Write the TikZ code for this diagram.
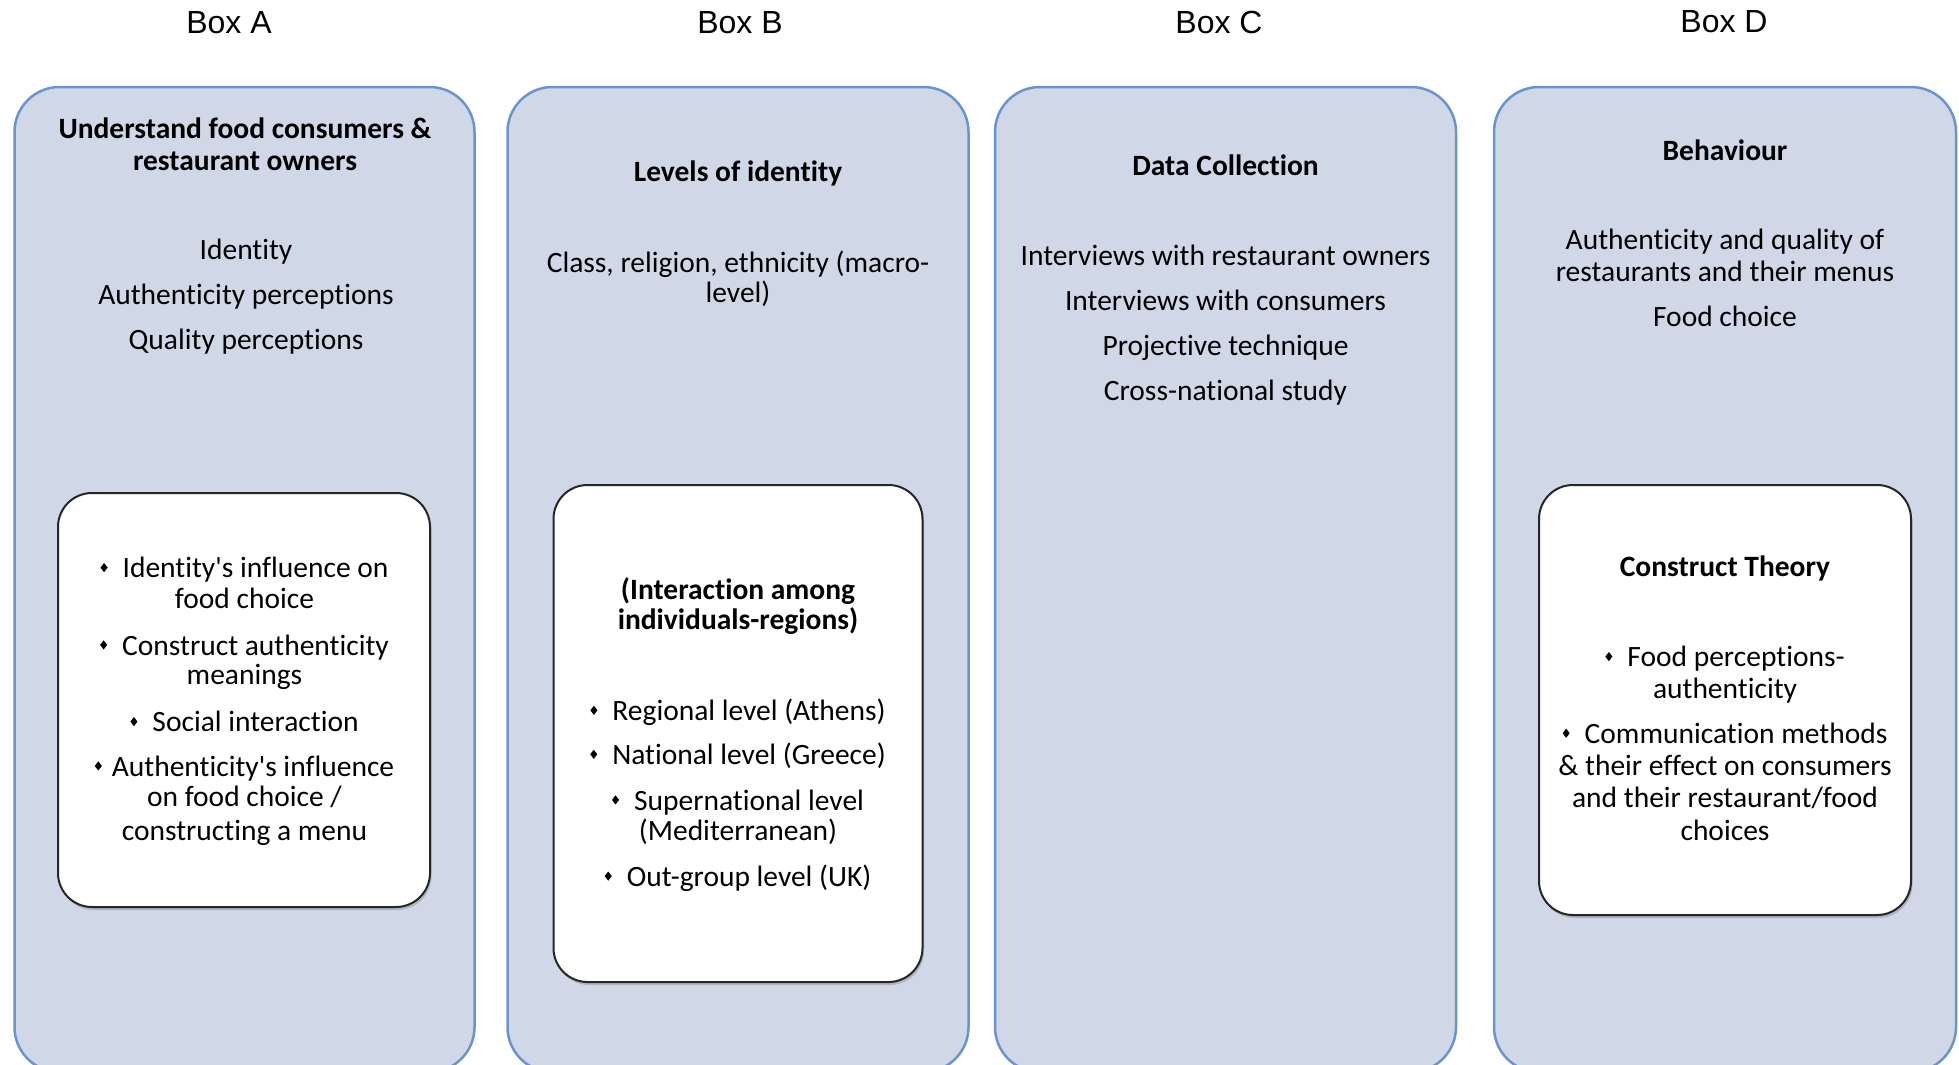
\documentclass[tikz,border=0pt]{standalone}
\usepackage{fontspec}
\usepackage{graphicx}
\setmainfont{Carlito}[Ligatures={TeXOff,NoCommon}]
\newfontfamily\arialf{Liberation Sans}
\usetikzlibrary{shadows}

\definecolor{boxfill}{RGB}{208,216,232}
\definecolor{boxline}{RGB}{106,148,204}

% small black diamond used as list bullet
\newcommand\dmd[1][15pt]{\raisebox{5.5pt}{\scalebox{1}[1.3]{\rotatebox{45}{\rule{5pt}{5pt}}}}\hspace{#1}}

\tikzset{
  outerbox/.style={draw=boxline, fill=boxfill, line width=2.5pt, rounded corners=45pt,
    anchor=north west, inner sep=0pt, outer sep=0pt, minimum height=985pt},
  innerbox/.style={draw=black!85, fill=white, line width=2pt, rounded corners=34pt,
    anchor=north west, inner sep=0pt, outer sep=0pt,
    drop shadow={shadow xshift=1.5pt, shadow yshift=-3pt, opacity=0.4}},
  txt/.style={anchor=base, inner sep=0pt, font=\fontsize{29.5}{32}\selectfont},
  hd/.style={anchor=base, inner sep=0pt, font=\fontsize{29.5}{32}\selectfont\bfseries},
  lbl/.style={anchor=base, inner sep=0pt, font=\arialf\fontsize{32}{37}\selectfont},
}

\begin{document}
\begin{tikzpicture}[x=1pt, y=-1pt]
\useasboundingbox (0,0) rectangle (1959,1065);
\fill[white] (0,0) rectangle (1959,1065);
\clip (0,0) rectangle (1959,1065);

% column headings
\node[lbl] (labA) at (229,34) {Box A};
\node[lbl] (labB) at (740,34) {Box B};
\node[lbl] (labC) at (1219,34) {Box C};
\node[lbl] (labD) at (1724,32.3) {Box D};

% column panels
\node[outerbox, minimum width=460pt] (boxA) at (14.5,87) {};
\node[outerbox, minimum width=461pt] (boxB) at (507.5,87) {};
\node[outerbox, minimum width=461pt] (boxC) at (995,87) {};
\node[outerbox, minimum width=462pt] (boxD) at (1494,87) {};

% inner white panels
\node[innerbox, minimum width=372pt, minimum height=414pt] (inA) at (58,493) {};
\node[innerbox, minimum width=369pt, minimum height=497pt] (inB) at (553.5,485) {};
\node[innerbox, minimum width=372pt, minimum height=430pt] (inD) at (1539,485) {};

% Box A
\node[hd] (a1) at (245,138.3) {Understand food consumers \&};
\node[hd] (a2) at (245,170) {restaurant owners};
\node[txt] (a3) at (246,259) {Identity};
\node[txt] (a4) at (246,304) {Authenticity perceptions};
\node[txt] (a5) at (246,349.5) {Quality perceptions};
\node[txt] (ai1) at (244.5,577.7) {\dmd Identity's influence on};
\node[txt] (ai2) at (244.5,608.3) {food choice};
\node[txt] (ai3) at (244.5,655) {\dmd Construct authenticity};
\node[txt] (ai4) at (244.5,684) {meanings};
\node[txt] (ai5) at (244.5,731.7) {\dmd Social interaction};
\node[txt] (ai6) at (244.5,776) {\dmd[10pt]Authenticity's influence};
\node[txt] (ai7) at (244.5,806.7) {on food choice /};
\node[txt] (ai8) at (244.5,840) {constructing a menu};

% Box B
\node[hd] (b1) at (738,181.7) {Levels of identity};
\node[txt] (b2) at (738,272) {Class, religion, ethnicity (macro-};
\node[txt] (b3) at (738,302.7) {level)};
\node[hd] (bi1) at (738,599.3) {(Interaction among};
\node[hd] (bi2) at (738,629) {individuals-regions)};
\node[txt] (bi3) at (738,720.4) {\dmd Regional level (Athens)};
\node[txt] (bi4) at (738,764.4) {\dmd National level (Greece)};
\node[txt] (bi5) at (738,810) {\dmd Supernational level};
\node[txt] (bi6) at (738,840.6) {(Mediterranean)};
\node[txt] (bi7) at (738,886.2) {\dmd Out-group level (UK)};

% Box C
\node[hd] (c1) at (1225.5,175.7) {Data Collection};
\node[txt] (c2) at (1225.5,265.7) {Interviews with restaurant owners};
\node[txt] (c3) at (1225.5,310) {Interviews with consumers};
\node[txt] (c4) at (1225.5,355) {Projective technique};
\node[txt] (c5) at (1225.5,400) {Cross-national study};

% Box D
\node[hd] (d1) at (1725,160) {Behaviour};
\node[txt] (d2) at (1725,249.3) {Authenticity and quality of};
\node[txt] (d3) at (1725,281) {restaurants and their menus};
\node[txt] (d4) at (1725,326) {Food choice};
\node[hd] (di1) at (1725,576.7) {Construct Theory};
\node[txt] (di2) at (1725,666.7) {\dmd Food perceptions-};
\node[txt] (di3) at (1725,698.3) {authenticity};
\node[txt] (di4) at (1725,743.3) {\dmd Communication methods};
\node[txt] (di5) at (1725,775) {\& their effect on consumers};
\node[txt] (di6) at (1725,807.3) {and their restaurant/food};
\node[txt] (di7) at (1725,840) {choices};
\end{tikzpicture}
\end{document}
